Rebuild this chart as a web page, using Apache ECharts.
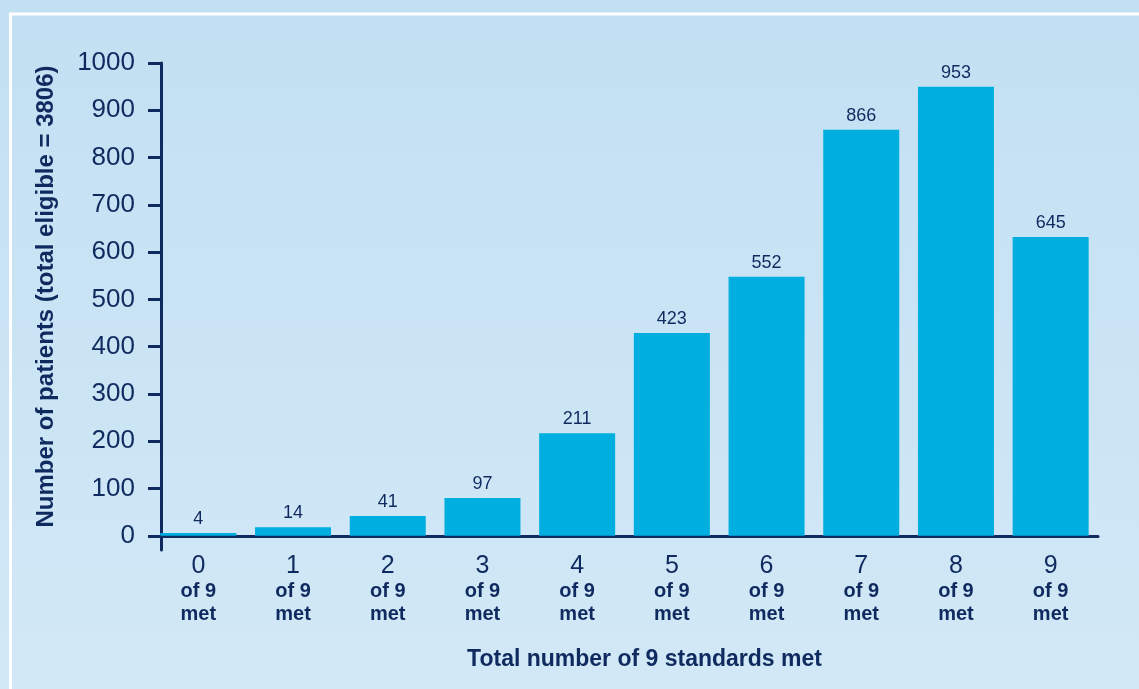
<!DOCTYPE html>
<html>
<head>
<meta charset="utf-8">
<script src="https://cdn.jsdelivr.net/npm/echarts@6/dist/echarts.min.js"></script>
<style>
html,body{margin:0;padding:0;}
#chart{width:1139px;height:689px;}
</style>
</head>
<body>
<div id="chart"></div>
<script>
var categories = ['0', '1', '2', '3', '4', '5', '6', '7', '8', '9'];
var barHeights = [6, 18, 42, 80, 217, 429, 548, 859, 950, 632];
var printedLabels = [4, 14, 41, 97, 211, 423, 552, 866, 953, 645];
var yTicks = [0, 100, 200, 300, 400, 500, 600, 700, 800, 900, 1000];

var navy = '#0f2a5f';
var font = "'Liberation Sans', Arial, sans-serif";
var chart = echarts.init(document.getElementById('chart'));
chart.setOption({
  backgroundColor: {
    type: 'linear', x: 0, y: 0, x2: 0, y2: 1,
    colorStops: [{offset: 0, color: '#c2e0f3'}, {offset: 1, color: '#d2e8f6'}]
  },
  textStyle: {fontFamily: font},
  animation: false,
  graphic: [
    {type: 'line', shape: {x1: 9, y1: 14, x2: 1139, y2: 14}, style: {stroke: '#ffffff', lineWidth: 3}},
    {type: 'line', shape: {x1: 10.5, y1: 13, x2: 10.5, y2: 689}, style: {stroke: '#ffffff', lineWidth: 3}}
  ],
  grid: {left: 151, top: 63, width: 947, height: 487},
  xAxis: {
    type: 'category',
    data: categories,
    axisLine: {onZero: true, lineStyle: {color: navy, width: 3}},
    axisTick: {show: false},
    axisLabel: {
      margin: 2,
      interval: 0,
      formatter: function (v) { return '{n|' + v + '}\n{o|of 9}\n{o|met}'; },
      rich: {
        n: {fontSize: 25, lineHeight: 28, color: navy, fontFamily: font},
        o: {fontSize: 20, lineHeight: 23, color: navy, fontWeight: 'bold', fontFamily: font}
      }
    },
    name: 'Total number of 9 standards met',
    nameLocation: 'middle',
    nameGap: 98,
    nameMoveOverlap: false,
    nameTextStyle: {fontSize: 23, fontWeight: 'bold', color: navy, padding: [0, 0, 0, 40], verticalAlign: 'top'}
  },
  yAxis: {
    type: 'value',
    min: -30,
    max: 1000,
    offset: -10,
    splitLine: {show: false},
    axisLine: {show: true, lineStyle: {color: navy, width: 3}},
    axisTick: {show: true, length: 13, lineStyle: {color: navy, width: 3}, customValues: yTicks},
    axisLabel: {fontSize: 26, color: navy, margin: 26, customValues: yTicks, formatter: function (v) { return String(v); }},
    name: 'Number of patients (total eligible = 3806)',
    nameLocation: 'middle',
    nameGap: 103,
    nameMoveOverlap: false,
    nameTextStyle: {fontSize: 24, fontWeight: 'bold', color: navy, padding: [0, 0, 0, 20]}
  },
  series: [{
    type: 'bar',
    data: barHeights,
    barWidth: 76,
    itemStyle: {color: '#00aee0'},
    label: {
      show: true,
      position: 'top',
      distance: 5,
      fontSize: 18,
      color: navy,
      formatter: function (p) { return String(printedLabels[p.dataIndex]); }
    }
  }]
});
</script>
</body>
</html>
